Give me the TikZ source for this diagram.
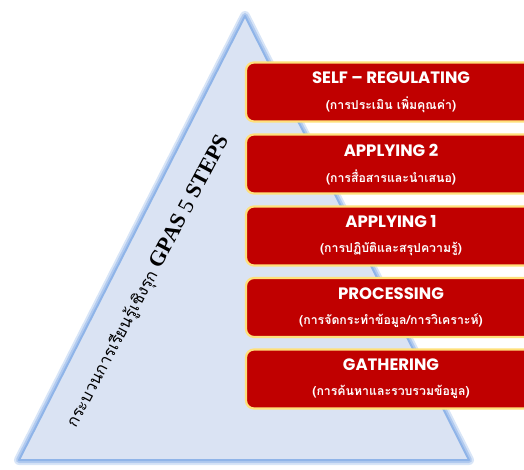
\documentclass[tikz,border=0pt]{standalone}
\usepackage{fontspec}
\usepackage{xcolor}
\setmainfont{Liberation Serif}
\newfontfamily\thaifont[Script=Thai]{Loma}
\newfontfamily\titlefont{Poppins}
\usetikzlibrary{calc}

\definecolor{pyrfill}{HTML}{DAE3F3}
\definecolor{pyrglow}{HTML}{8FB4E8}
\definecolor{stepred}{HTML}{C00000}
\definecolor{stepgold}{HTML}{FFE07A}

\tikzset{
  stepbox/.style={rectangle, rounded corners=8pt, fill=stepred, draw=stepgold,
    line width=2.2pt, minimum width=290pt, minimum height=59pt,
    text=white, align=center, inner sep=0pt},
  steptitle/.style={font=\titlefont\bfseries\fontsize{16.5}{18}\selectfont},
  stepsub/.style={font=\thaifont\bfseries\fontsize{12.3}{14}\selectfont}
}

\newcommand{\stepnode}[4]{%
  \node[stepbox] (#1) at (391,#2) {};
  \node[steptitle, text=white] (#1t) at ($(#1.center)+(0,-14)$) {#3};
  \node[stepsub, text=white] (#1s) at ($(#1.center)+(0,13)$) {#4};
}

\begin{document}
\begin{tikzpicture}[x=1pt, y=-1pt]
    \useasboundingbox (0,0) rectangle (524,470);
    \clip (0,0) rectangle (524,470);

    \path (245,16) coordinate (A);
    \path (19,460) coordinate (L);
    \path (469,460) coordinate (R);

    % pyramid with soft blue rim
    \draw[pyrglow!35, line width=10pt, line join=round] (A) -- (L) -- (R) -- cycle;
    \draw[pyrglow!70, line width=6pt, line join=round] (A) -- (L) -- (R) -- cycle;
    \filldraw[fill=pyrfill, draw=pyrglow, line width=2pt, line join=round]
        (A) -- (L) -- (R) -- cycle;

    \node[rotate=62, anchor=center, inner sep=0pt] (label) at (148,282)
        {\thaifont\fontsize{16.5}{18}\selectfont กระบวนการเรียนรู้เชิงรุก
         \fontsize{22}{24}\selectfont\rmfamily\bfseries GPAS
         \mdseries 5 \bfseries STEPS};

    \stepnode{self}{92}{SELF – REGULATING}{(การประเมิน เพิ่มคุณค่า)}
    \stepnode{apptwo}{164}{APPLYING 2}{(การสื่อสารและนำเสนอ)}
    \stepnode{appone}{236}{APPLYING 1}{(การปฏิบัติและสรุปความรู้)}
    \stepnode{proc}{307.5}{PROCESSING}{(การจัดกระทำข้อมูล/การวิเคราะห์)}
    \stepnode{gath}{379}{GATHERING}{(การค้นหาและรวบรวมข้อมูล)}
\end{tikzpicture}
\end{document}
